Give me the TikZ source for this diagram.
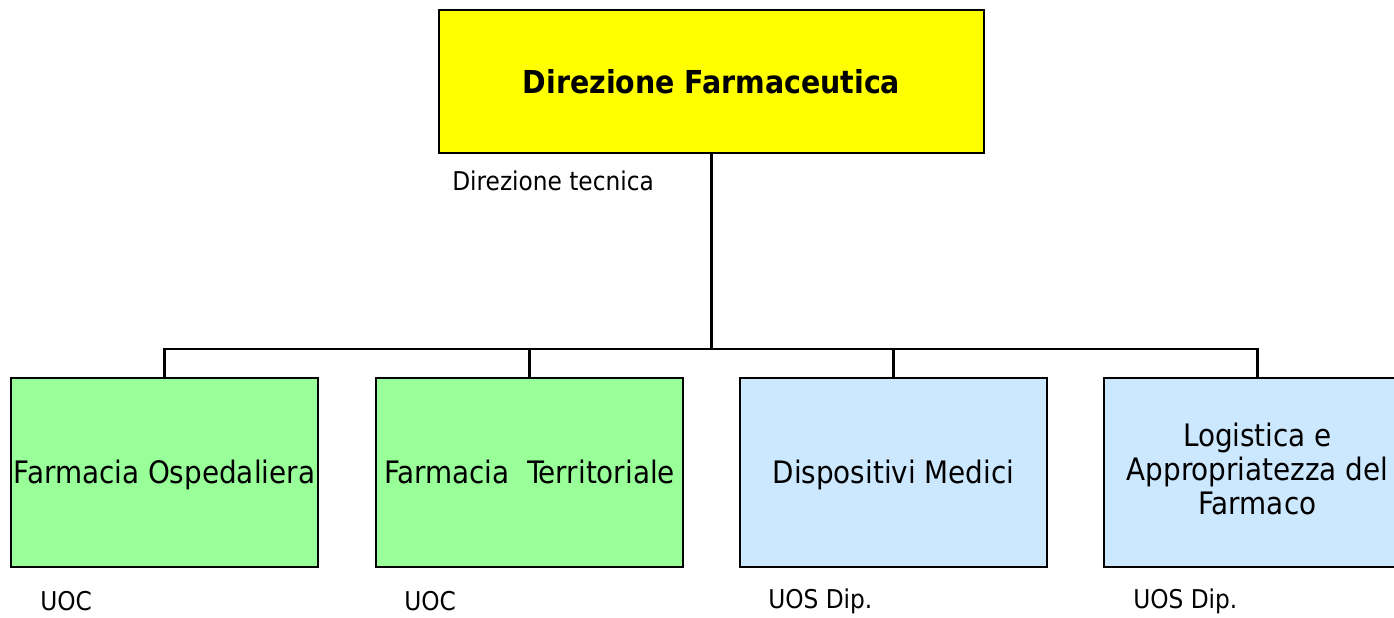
\documentclass[tikz,border=0pt]{standalone}
\usepackage{fontspec}
\setmainfont{DejaVu Sans Condensed}
\definecolor{giallo}{HTML}{FFFF00}
\definecolor{verde}{HTML}{99FF99}
\definecolor{azzurro}{HTML}{CCE8FF}
\begin{document}
\begin{tikzpicture}
        [x=0.75pt,y=-0.75pt,
         box/.style={draw,line width=1.5pt,minimum width=230.25pt,minimum height=141.75pt,
                     align=center,inner sep=0pt,font=\fontsize{23.2}{25.5}\selectfont,
                     execute at begin node=\rule[-5pt]{0pt}{26pt},
                     execute at end node=\rule[-5pt]{0pt}{5pt}},
         tag/.style={anchor=west,inner sep=0pt,font=\fontsize{19.4}{22}\selectfont},
         link/.style={line width=1.7pt}]
        \clip (0,0) rectangle (1394,617);
        \node[draw,fill=giallo,line width=1.5pt,minimum width=408.75pt,minimum height=107.25pt,
              font=\fontsize{23.7}{28}\selectfont\bfseries] (DF) at (711.5,81.5) {Direzione Farmaceutica};
        \node[tag] (DT) at (452,181) {Direzione tecnica};

        \node[box,fill=verde] (FO) at (164.5,472.5) {Farmacia Ospedaliera};
        \node[box,fill=verde] (FT) at (529.5,472.5) {Farmacia\ \ Territoriale};
        \node[box,fill=azzurro] (DM) at (893.5,472.5) {Dispositivi Medici};
        \node[box,fill=azzurro] (LA) at (1257.5,472.5) {Logistica e\\Appropriatezza del\\Farmaco};

        \node[tag] (U1) at (40,601) {UOC};
        \node[tag] (U2) at (404,601) {UOC};
        \node[tag] (U3) at (768,601) {UOS Dip.};
        \node[tag] (U4) at (1133,601) {UOS Dip.};

        \coordinate (bus) at (711.5,349);
        \draw[link] (DF.south) -- (bus);
        \draw[link] (FO.north) |- (bus) -| (LA.north);
        \draw[link] (FT.north) -- (FT.north |- bus);
        \draw[link] (DM.north) -- (DM.north |- bus);
      \end{tikzpicture}
\end{document}
